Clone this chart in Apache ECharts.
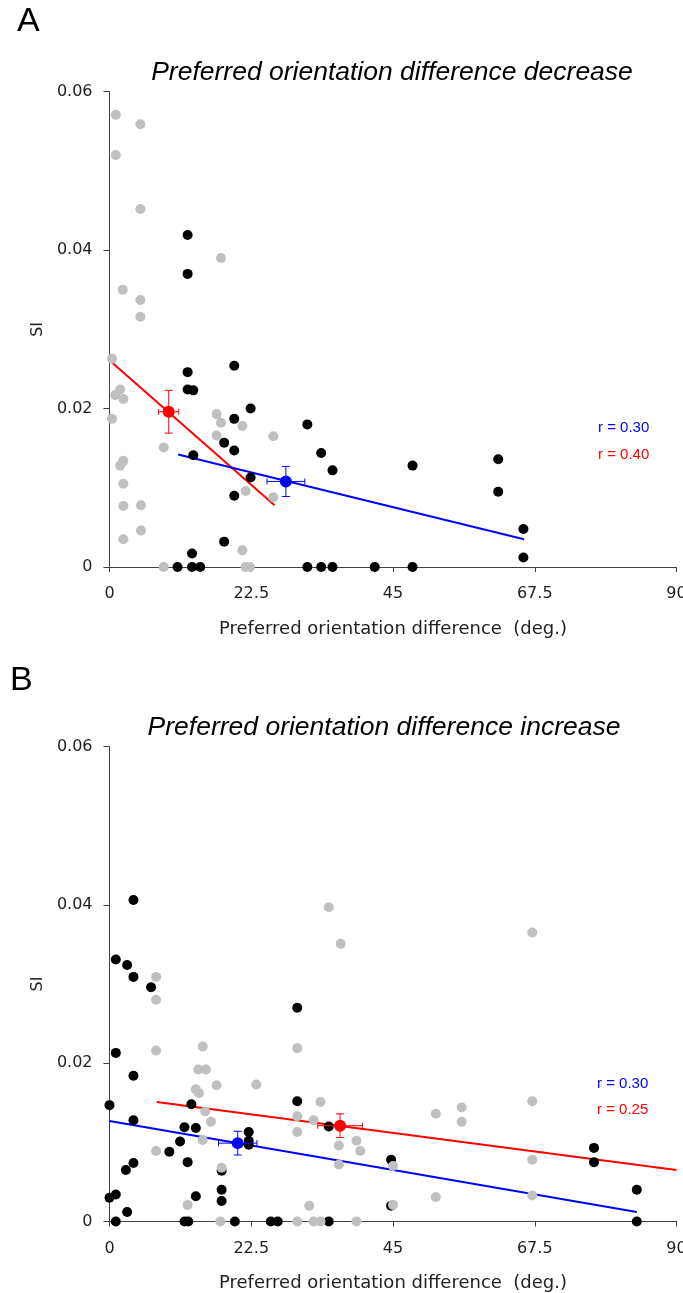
<!DOCTYPE html>
<html>
<head>
<meta charset="utf-8">
<script src="https://cdn.jsdelivr.net/npm/echarts@6/dist/echarts.min.js"></script>
<style>
  html, body { margin: 0; padding: 0; background: #fff; }
  #chart { width: 683px; height: 1293px; }
</style>
</head>
<body>
<div id="chart"></div>
<script>
// x ticks (deg.)
var xTicks = [0, 22.5, 45, 67.5, 90];

// panel A - decrease
var grayA = [[1.0,0.0571],[4.9,0.0559],[1.0,0.0520],[4.9,0.0452],[17.7,0.0390],[2.1,0.0350],[4.9,0.0337],[4.9,0.0316],
  [0.4,0.0263],[1.7,0.0224],[0.9,0.0217],[2.2,0.0212],[0.4,0.0187],[17.0,0.0193],[17.7,0.0182],[21.1,0.0178],
  [17.0,0.0166],[26.0,0.0165],[8.6,0.0151],[2.2,0.0134],[1.7,0.0128],[2.2,0.0105],[21.6,0.0096],[26.0,0.0088],
  [2.2,0.0077],[5.0,0.0078],[5.0,0.0046],[2.2,0.0035],[21.1,0.0021],[8.6,0],[21.6,0],[22.3,0]];
var blackA = [[12.4,0.0419],[12.4,0.0370],[12.4,0.0246],[19.8,0.0254],[12.4,0.0224],[13.3,0.0223],[22.4,0.0200],
  [19.8,0.0187],[18.2,0.0157],[19.8,0.0147],[13.3,0.0141],[22.4,0.0113],[19.8,0.0090],[18.2,0.0032],[13.1,0.0017],
  [10.8,0],[13.1,0],[14.4,0],[31.4,0.0180],[33.6,0.0144],[35.4,0.0122],[48.1,0.0128],[61.7,0.0136],[61.7,0.0095],
  [65.7,0.0048],[65.7,0.0012],[31.4,0],[33.6,0],[35.4,0],[42.1,0],[48.1,0]];
var redFitA = [[0.4,0.0258],[26.2,0.0078]];
var blueFitA = [[10.9,0.0142],[65.8,0.0035]];
// mean: x, y, x error, y error
var redMeanA = [[9.4,0.0196,1.6,0.0027]];
var blueMeanA = [[28.0,0.0108,3.0,0.0019]];

// panel B - increase
var grayB = [[7.4,0.0309],[7.4,0.0280],[7.4,0.0216],[14.8,0.0221],[29.8,0.0219],[14.1,0.0192],[15.3,0.0192],
  [17.0,0.0172],[23.3,0.0173],[13.7,0.0167],[14.2,0.0162],[15.2,0.0139],[29.8,0.0133],[16.1,0.0126],[29.8,0.0113],
  [14.8,0.0103],[7.4,0.0089],[17.8,0.0068],[12.4,0.0021],[17.6,0],[29.8,0],[34.8,0.0397],[36.7,0.0351],
  [33.5,0.0151],[32.4,0.0128],[39.2,0.0102],[39.8,0.0089],[36.4,0.0096],[36.4,0.0072],[45.0,0.0070],
  [51.8,0.0136],[55.9,0.0144],[55.9,0.0126],[51.8,0.0031],[31.7,0.0020],[45.0,0.0021],[32.4,0],[33.5,0],
  [39.2,0],[67.1,0.0365],[67.1,0.0152],[67.1,0.0078],[67.1,0.0033]];
var blackB = [[3.8,0.0406],[1.0,0.0331],[2.8,0.0324],[3.8,0.0309],[6.6,0.0296],[29.8,0.0270],[1.0,0.0213],
  [3.8,0.0184],[0,0.0147],[13.0,0.0148],[29.8,0.0152],[3.8,0.0128],[11.9,0.0119],[13.7,0.0118],[22.1,0.0113],
  [22.1,0.0102],[22.1,0.0097],[11.2,0.0101],[9.5,0.0088],[3.8,0.0074],[2.6,0.0065],[12.4,0.0075],[17.8,0.0064],
  [17.8,0.0040],[17.8,0.0026],[13.7,0.0032],[0,0.0030],[1.0,0.0034],[2.8,0.0012],[1.0,0],[11.9,0],[12.5,0],
  [19.9,0],[25.6,0],[26.7,0],[34.8,0.0120],[44.7,0.0078],[44.7,0.0020],[34.8,0],[76.9,0.0093],[76.9,0.0075],
  [83.7,0.0040],[83.7,0]];
var redFitB = [[7.5,0.0151],[90,0.0065]];
var blueFitB = [[0,0.0127],[83.7,0.0012]];
var redMeanB = [[36.6,0.0121,3.55,0.0015]];
var blueMeanB = [[20.35,0.0099,3.05,0.0015]];

var rA = ['r = 0.30', 'r = 0.40'];
var rB = ['r = 0.30', 'r = 0.25'];

var axisFont = 'DejaVu Sans';
var axisColor = '#404040';

function makeX(idx) {
  return {
    gridIndex: idx, type: 'value', min: 0, max: 90, interval: 22.5,
    name: 'Preferred orientation difference  (deg.)',
    nameLocation: 'middle', nameGap: 53,
    nameTextStyle: { fontFamily: axisFont, fontSize: 18, color: '#222' },
    axisLine: { onZero: false, lineStyle: { color: axisColor, width: 1 } },
    axisTick: { show: true, length: 5, lineStyle: { color: axisColor } },
    axisLabel: { margin: 19, fontFamily: axisFont, fontSize: 16, color: '#222', showMaxLabel: true },
    splitLine: { show: false }
  };
}
function makeY(idx) {
  return {
    gridIndex: idx, type: 'value', min: 0, max: 0.06, interval: 0.02,
    name: 'SI', nameLocation: 'middle', nameGap: 62, nameRotate: 90,
    nameTextStyle: { fontFamily: axisFont, fontSize: 16, color: '#222' },
    axisLine: { show: true, lineStyle: { color: axisColor, width: 1 } },
    axisTick: { show: true, length: 6, lineStyle: { color: axisColor } },
    axisLabel: {
      margin: 17, fontFamily: axisFont, fontSize: 16, color: '#222',
      formatter: function (v) { return v === 0 ? '0' : v.toFixed(2); }
    },
    splitLine: { show: false }
  };
}

function dots(idx, data, color) {
  return {
    type: 'scatter', xAxisIndex: idx, yAxisIndex: idx, data: data,
    symbolSize: 10, itemStyle: { color: color, opacity: 1 }, z: color === '#000000' ? 3 : 4,
    silent: true
  };
}
function fit(idx, data, color) {
  return {
    type: 'line', xAxisIndex: idx, yAxisIndex: idx, data: data, showSymbol: false,
    lineStyle: { color: color, width: 2 }, z: 2, silent: true
  };
}
function mean(idx, data, color) {
  return {
    type: 'custom', xAxisIndex: idx, yAxisIndex: idx, data: data, z: 6, silent: true,
    renderItem: function (params, api) {
      var x = api.value(0), y = api.value(1), ex = api.value(2), ey = api.value(3);
      var c = api.coord([x, y]);
      var l = api.coord([x - ex, y]), r = api.coord([x + ex, y]);
      var t = api.coord([x, y + ey]), b = api.coord([x, y - ey]);
      var st = { stroke: color, lineWidth: 1 };
      return {
        type: 'group',
        children: [
          { type: 'line', shape: { x1: l[0], y1: c[1], x2: r[0], y2: c[1] }, style: st },
          { type: 'line', shape: { x1: l[0], y1: c[1] - 3, x2: l[0], y2: c[1] + 3 }, style: st },
          { type: 'line', shape: { x1: r[0], y1: c[1] - 3, x2: r[0], y2: c[1] + 3 }, style: st },
          { type: 'line', shape: { x1: c[0], y1: t[1], x2: c[0], y2: b[1] }, style: st },
          { type: 'line', shape: { x1: c[0] - 4, y1: t[1], x2: c[0] + 4, y2: t[1] }, style: st },
          { type: 'line', shape: { x1: c[0] - 4, y1: b[1], x2: c[0] + 4, y2: b[1] }, style: st },
          { type: 'circle', shape: { cx: c[0], cy: c[1], r: 6 }, style: { fill: color } }
        ]
      };
    }
  };
}

function txt(x, y, s, size, color, opts) {
  var style = {
    text: s, x: x, y: y, fill: color || '#000',
    font: (opts && opts.italic ? 'italic ' : '') + size + 'px ' + ((opts && opts.family) || 'Liberation Sans'),
    textAlign: (opts && opts.align) || 'left', textVerticalAlign: 'middle'
  };
  return { type: 'text', style: style, z: 10 };
}

var chart = echarts.init(document.getElementById('chart'), null, { renderer: 'canvas' });
chart.setOption({
  animation: false,
  backgroundColor: '#fff',
  grid: [
    { left: 109.5, top: 91.7, width: 567, height: 475.3, outerBoundsMode: 'none', containLabel: false },
    { left: 109.5, top: 746.5, width: 567, height: 475, outerBoundsMode: 'none', containLabel: false }
  ],
  xAxis: [makeX(0), makeX(1)],
  yAxis: [makeY(0), makeY(1)],
  series: [
    fit(0, redFitA, '#ff0000'), fit(0, blueFitA, '#0000ff'),
    dots(0, blackA, '#000000'), dots(0, grayA, '#c0c0c0'),
    mean(0, redMeanA, '#ff0000'), mean(0, blueMeanA, '#0000ff'),
    fit(1, redFitB, '#ff0000'), fit(1, blueFitB, '#0000ff'),
    dots(1, blackB, '#000000'), dots(1, grayB, '#c0c0c0'),
    mean(1, redMeanB, '#ff0000'), mean(1, blueMeanB, '#0000ff')
  ],
  graphic: [
    txt(17, 22, 'A', 34, '#000'),
    txt(10, 681, 'B', 34, '#000'),
    txt(392, 73, 'Preferred orientation difference decrease', 26.5, '#000', { italic: true, align: 'center' }),
    txt(384, 728, 'Preferred orientation difference increase', 26.5, '#000', { italic: true, align: 'center' }),
    txt(598, 428, rA[0], 15, '#0000ff'),
    txt(598, 455, rA[1], 15, '#ff0000'),
    txt(597, 1084, rB[0], 15, '#0000ff'),
    txt(597, 1110, rB[1], 15, '#ff0000')
  ]
});
</script>
</body>
</html>
